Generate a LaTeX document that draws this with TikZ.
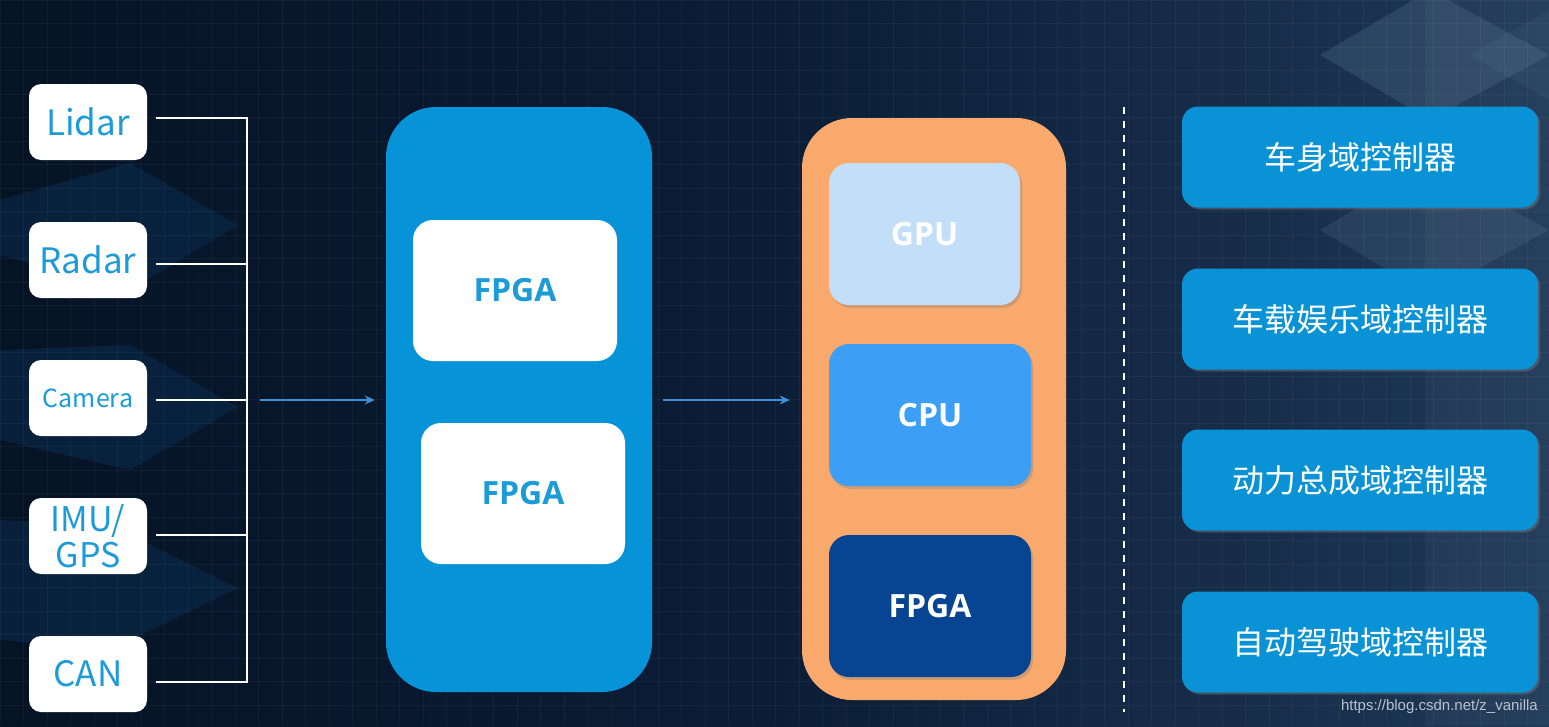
\documentclass[tikz,border=0pt]{standalone}
\usepackage{fontspec}
\setmainfont{Noto Sans CJK SC}
\newfontfamily\wmfont{Liberation Sans}
\newfontfamily\boldlat{Open Sans}
\usetikzlibrary{arrows.meta,shadows}
\definecolor{bgL}{HTML}{061325}
\definecolor{bgM}{HTML}{0B1D36}
\definecolor{bgR}{HTML}{1E3857}
\definecolor{txtblue}{HTML}{1C9BD9}
\definecolor{bigblue}{HTML}{0793D8}
\definecolor{orangebox}{HTML}{F8A96B}
\definecolor{gpucol}{HTML}{C3DEF8}
\definecolor{cpucol}{HTML}{3C9EF4}
\definecolor{fpgadark}{HTML}{074592}
\definecolor{rboxcol}{HTML}{0A92D6}
\definecolor{arrcol}{HTML}{3F8FD2}
\definecolor{diamL}{HTML}{0C3A66}
\definecolor{diamR}{HTML}{6D89A5}
\definecolor{wmcol}{HTML}{B9C2CC}
\begin{document}
\begin{tikzpicture}[x=1pt,y=-1pt,
  lbox/.style={fill=white, rounded corners=12pt, minimum width=118pt, minimum height=76pt,
    inner sep=0pt, text=txtblue, font=\fontsize{35}{37}\selectfont, align=center},
  bigbox/.style={rounded corners=50pt, inner sep=0pt},
  fbox/.style={fill=white, rounded corners=20pt, minimum width=204pt, minimum height=141pt,
    inner sep=0pt, text=txtblue, font=\boldlat\fontsize{32}{36}\selectfont\bfseries},
  chip/.style={rounded corners=20pt, inner sep=0pt, text=white,
    font=\boldlat\fontsize{32}{36}\selectfont\bfseries,
    drop shadow={opacity=0.35, shadow xshift=2pt, shadow yshift=-3pt}},
  rbox/.style={fill=rboxcol, rounded corners=16pt, minimum width=356pt, minimum height=101pt,
    inner sep=0pt, text=white, font=\fontsize{32}{36}\selectfont,
    drop shadow={opacity=0.4, shadow xshift=2pt, shadow yshift=-2pt}},
  bus/.style={draw=white, line width=2pt},
  arr/.style={draw=arrcol, line width=2pt, -{Stealth[length=10pt,width=9pt]}},
  diam/.style={fill=diamL, opacity=0.35}
]
\useasboundingbox (0,0) rectangle (1549,726);
% background
\shade[left color=bgL, right color=bgR, middle color=bgM] (0,0) rectangle (1549,726);
\fill[white, opacity=0.04] (1425,0) rectangle (1549,726);
% decorative diamonds
\fill[diam] (0,200) -- (130,163) -- (238,225) -- (130,290) -- (0,255) -- cycle;
\fill[diam] (0,350) -- (130,345) -- (238,407) -- (130,470) -- (0,440) -- cycle;
\fill[diam] (0,520) -- (110,525) -- (238,588) -- (110,650) -- (0,640) -- cycle;
\fill[diamR, opacity=0.22] (1320,55) -- (1430,-10) -- (1549,55) -- (1430,120) -- cycle;
\fill[diamR, opacity=0.18] (1320,230) -- (1430,165) -- (1549,230) -- (1430,295) -- cycle;
\fill[diamR, opacity=0.10] (1470,55) -- (1549,10) -- (1549,100) -- cycle;
% grid
\foreach \gx in {0,23.5,...,1549} \draw[white, opacity=0.045, line width=0.8pt] (\gx,0) -- (\gx,726);
\foreach \gy in {0,23.5,...,726} \draw[white, opacity=0.045, line width=0.8pt] (0,\gy) -- (1549,\gy);

% left sensor boxes
\node[lbox] (lidar) at (88,122) {Lidar};
\node[lbox] (radar) at (88,260) {Radar};
\node[lbox, font=\fontsize{25}{28}\selectfont] (camera) at (88,398) {Camera};
\node[lbox, font=\fontsize{34}{36}\selectfont] (imu) at (88,536) {IMU/\\GPS};
\node[lbox] (can) at (88,674) {CAN};

% bus
\coordinate (busc) at (247,400);
\foreach \n/\dy in {lidar/-4,radar/4,camera/2,imu/-1,can/8}
  \draw[bus] ([xshift=9pt,yshift=-\dy pt]\n.east) -- ([yshift=-\dy pt]\n.east -| busc);
\draw[bus] ([yshift=5pt]lidar.east -| busc) -- ([yshift=-9pt]can.east -| busc);

% blue FPGA container
\node[bigbox, fill=bigblue, minimum width=266pt, minimum height=585pt] (blue) at (519,399.5) {};
\node[fbox] (f1) at (515,290.5) {FPGA};
\node[fbox] (f2) at (523,493.5) {FPGA};

% orange compute container
\node[bigbox, fill=orangebox, minimum width=264pt, minimum height=582pt] (orange) at (934,409) {};
\node[chip, fill=gpucol, minimum width=191pt, minimum height=142pt] (gpu) at (924.5,234) {GPU};
\node[chip, fill=cpucol, minimum width=202pt, minimum height=142pt] (cpu) at (930,415) {CPU};
\node[chip, fill=fpgadark, minimum width=202pt, minimum height=142pt] (fpga) at (930,606) {FPGA};

% arrows
\draw[arr] ([xshift=13pt]busc) -- ([xshift=-11pt]blue.west |- busc);
\draw[arr] ([xshift=11pt]blue.east |- busc) -- ([xshift=-12pt]orange.west |- busc);

% dashed separator
\coordinate (dtop) at (1124,107);
\coordinate (dbot) at (1124,712);
\draw[white, line width=2pt, dash pattern=on 7pt off 7pt] (dtop) -- (dbot);

% right domain controllers
\node[rbox] (r1) at (1360,157) {车身域控制器};
\node[rbox] (r2) at (1360,319) {车载娱乐域控制器};
\node[rbox] (r3) at (1360,480) {动力总成域控制器};
\node[rbox] (r4) at (1360,642) {自动驾驶域控制器};

% watermark
\node[text=wmcol, font=\wmfont\fontsize{15}{17}\selectfont, anchor=east, inner sep=0pt] (wm) at (1538,707) {https://blog.csdn.net/z\_vanilla};
\end{tikzpicture}
\end{document}
